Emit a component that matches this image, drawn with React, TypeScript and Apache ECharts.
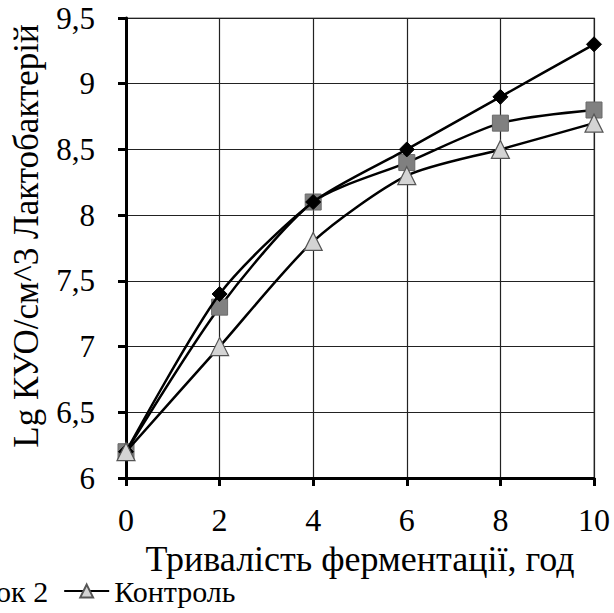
import React, { useEffect, useRef } from "react";
import * as echarts from "echarts";

const hours = [0, 2, 4, 6, 8, 10];
const sample1 = [6.2, 7.4, 8.1, 8.5, 8.9, 9.3];
const sample2 = [6.2, 7.3, 8.1, 8.4, 8.7, 8.8];
const control = [6.2, 7.0, 7.8, 8.3, 8.5, 8.7];
const seriesNames = ["Зразок 1", "Зразок 2", "Контроль"];
const xTitle = "Тривалість ферментації, год";
const yTitle = "Lg КУО/см^3 Лактобактерій";

const FONT = "'Liberation Serif', 'Times New Roman', serif";

export default function App() {
  const ref = useRef<HTMLDivElement>(null);
  useEffect(() => {
    if (!ref.current) return;
    const chart = echarts.init(ref.current, undefined, { renderer: "svg" });
    const pair = (arr: number[]) => hours.map((h, i) => [h, arr[i]]);
    const lineBase = {
      type: "line" as const,
      smooth: 0.25,
      lineStyle: { color: "#000", width: 2.5 },
    };
    chart.setOption({
      animation: false,
      backgroundColor: "#fff",
      textStyle: { fontFamily: FONT },
      grid: { left: 126, right: 20, top: 18, bottom: 135, show: true, borderColor: "#999", borderWidth: 1.5 },
      legend: {
        left: -288,
        top: 571,
        itemGap: 15,
        itemWidth: 45,
        itemHeight: 16,
        textStyle: { fontFamily: FONT, fontSize: 30, color: "#000" },
        data: seriesNames,
      },
      xAxis: {
        type: "value",
        min: 0,
        max: 10,
        interval: 2,
        name: xTitle,
        nameLocation: "middle",
        nameGap: 57,
        nameTextStyle: { fontFamily: FONT, fontSize: 36, color: "#000" },
        axisLine: { lineStyle: { color: "#000", width: 3 } },
        axisTick: { show: true, length: 8, lineStyle: { color: "#000", width: 3 } },
        axisLabel: { fontFamily: FONT, fontSize: 32, color: "#000", margin: 26 },
        splitLine: { show: true, lineStyle: { color: "#222", width: 1.2 } },
      },
      yAxis: {
        type: "value",
        min: 6,
        max: 9.5,
        interval: 0.5,
        name: yTitle,
        nameLocation: "middle",
        nameGap: 82,
        nameTextStyle: { fontFamily: FONT, fontSize: 35, color: "#000", padding: [0, 0, 0, 24] },
        axisLine: { show: true, lineStyle: { color: "#000", width: 3 } },
        axisTick: { show: true, length: 8, lineStyle: { color: "#000", width: 3 } },
        axisLabel: {
          fontFamily: FONT,
          fontSize: 31,
          color: "#000",
          margin: 31,
          formatter: (v: number) => String(v).replace(".", ","),
        },
        splitLine: { show: true, lineStyle: { color: "#222", width: 1.2 } },
      },
      series: [
        {
          ...lineBase,
          name: seriesNames[0],
          data: pair(sample1),
          symbol: "diamond",
          symbolSize: 15,
          itemStyle: { color: "#000", borderColor: "#000", borderWidth: 1 },
          z: 4,
        },
        {
          ...lineBase,
          name: seriesNames[1],
          data: pair(sample2),
          symbol: "rect",
          symbolSize: 16,
          itemStyle: { color: "#808080", borderColor: "#6a6a6a", borderWidth: 1 },
          z: 3,
        },
        {
          ...lineBase,
          name: seriesNames[2],
          data: pair(control),
          symbol: "triangle",
          symbolSize: 18,
          itemStyle: { color: "#d4d4d4", borderColor: "#555", borderWidth: 1.2 },
          z: 5,
        },
      ],
    });
    return () => chart.dispose();
  }, []);
  return <div ref={ref} style={{ position: "fixed", left: 0, top: 0, width: 614, height: 613 }} />;
}
